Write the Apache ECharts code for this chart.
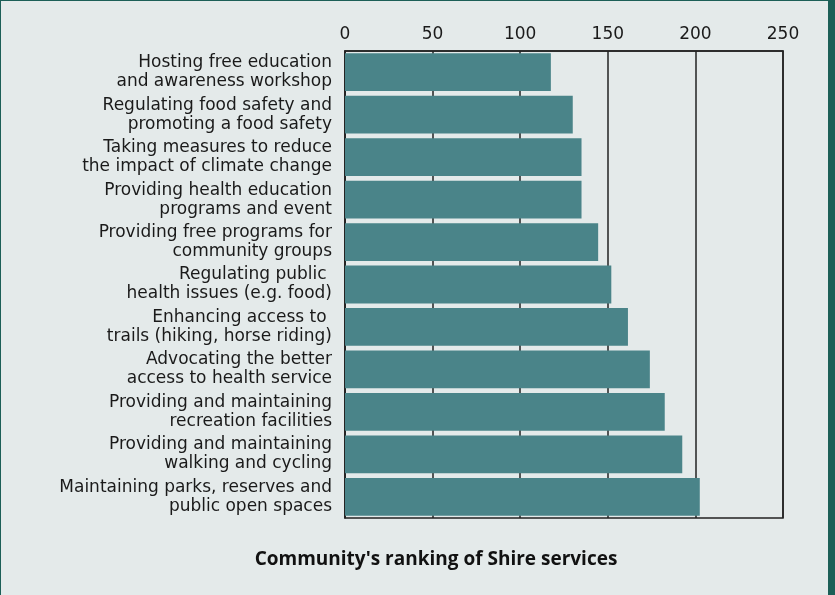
<!DOCTYPE html>
<html>
<head>
<meta charset="utf-8">
<script src="https://cdn.jsdelivr.net/npm/echarts@6/dist/echarts.min.js"></script>
<style>
  html, body { margin: 0; padding: 0; background: #1c5f57; }
  #panel { position: absolute; left: 1px; top: 1px; width: 827px; height: 594px; background: #e4eaea; }
  #chart { position: absolute; left: 0; top: 0; width: 835px; height: 595px; }
</style>
</head>
<body>
<div id="panel"></div>
<div id="chart"></div>
<script>
// services, top to bottom
var services = [
  'Hosting free education\nand awareness workshop',
  'Regulating food safety and\npromoting a food safety',
  'Taking measures to reduce\nthe impact of climate change',
  'Providing health education\nprograms and event',
  'Providing free programs for\ncommunity groups',
  'Regulating public \nhealth issues (e.g. food)',
  'Enhancing access to \ntrails (hiking, horse riding)',
  'Advocating the better\naccess to health service',
  'Providing and maintaining\nrecreation facilities',
  'Providing and maintaining\nwalking and cycling',
  'Maintaining parks, reserves and\npublic open spaces'
];
var scores = [117.5, 130, 135, 135, 144.5, 152, 161.5, 174, 182.5, 192.5, 202.5];

var chartTitle = "Community's ranking of Shire services";

var chart = echarts.init(document.getElementById('chart'), null, { renderer: 'canvas' });

var option = {
  backgroundColor: 'transparent',
  animation: false,
  title: {
    text: chartTitle,
    left: 431,
    top: 545,
    textAlign: 'center',
    textStyle: {
      fontFamily: 'Open Sans',
      fontWeight: 'bold',
      fontSize: 19,
      color: '#111'
    }
  },
  grid: {
    left: 345,
    right: 52,
    top: 51,
    bottom: 77,
    show: true,
    backgroundColor: 'transparent',
    borderColor: '#222',
    borderWidth: 1.5
  },
  xAxis: {
    type: 'value',
    position: 'top',
    min: 0,
    max: 250,
    interval: 50,
    axisLine: { show: true, lineStyle: { color: '#222', width: 1.5 } },
    axisTick: { show: false },
    splitLine: { show: true, lineStyle: { color: '#222', width: 1.5 } },
    axisLabel: {
      margin: 8,
      fontFamily: 'DejaVu Sans',
      fontSize: 17,
      color: '#1a1a1a'
    }
  },
  yAxis: {
    type: 'category',
    inverse: true,
    data: services,
    axisLine: { show: true, lineStyle: { color: '#222', width: 1.5 } },
    axisTick: { show: false },
    axisLabel: {
      margin: 13,
      fontFamily: 'DejaVu Sans',
      fontSize: 17,
      lineHeight: 19,
      color: '#1a1a1a',
      align: 'right'
    }
  },
  series: [{
    type: 'bar',
    data: scores,
    barCategoryGap: '11%',
    itemStyle: { color: '#4a8489' },
    z: 3
  }]
};

chart.setOption(option);
</script>
</body>
</html>
